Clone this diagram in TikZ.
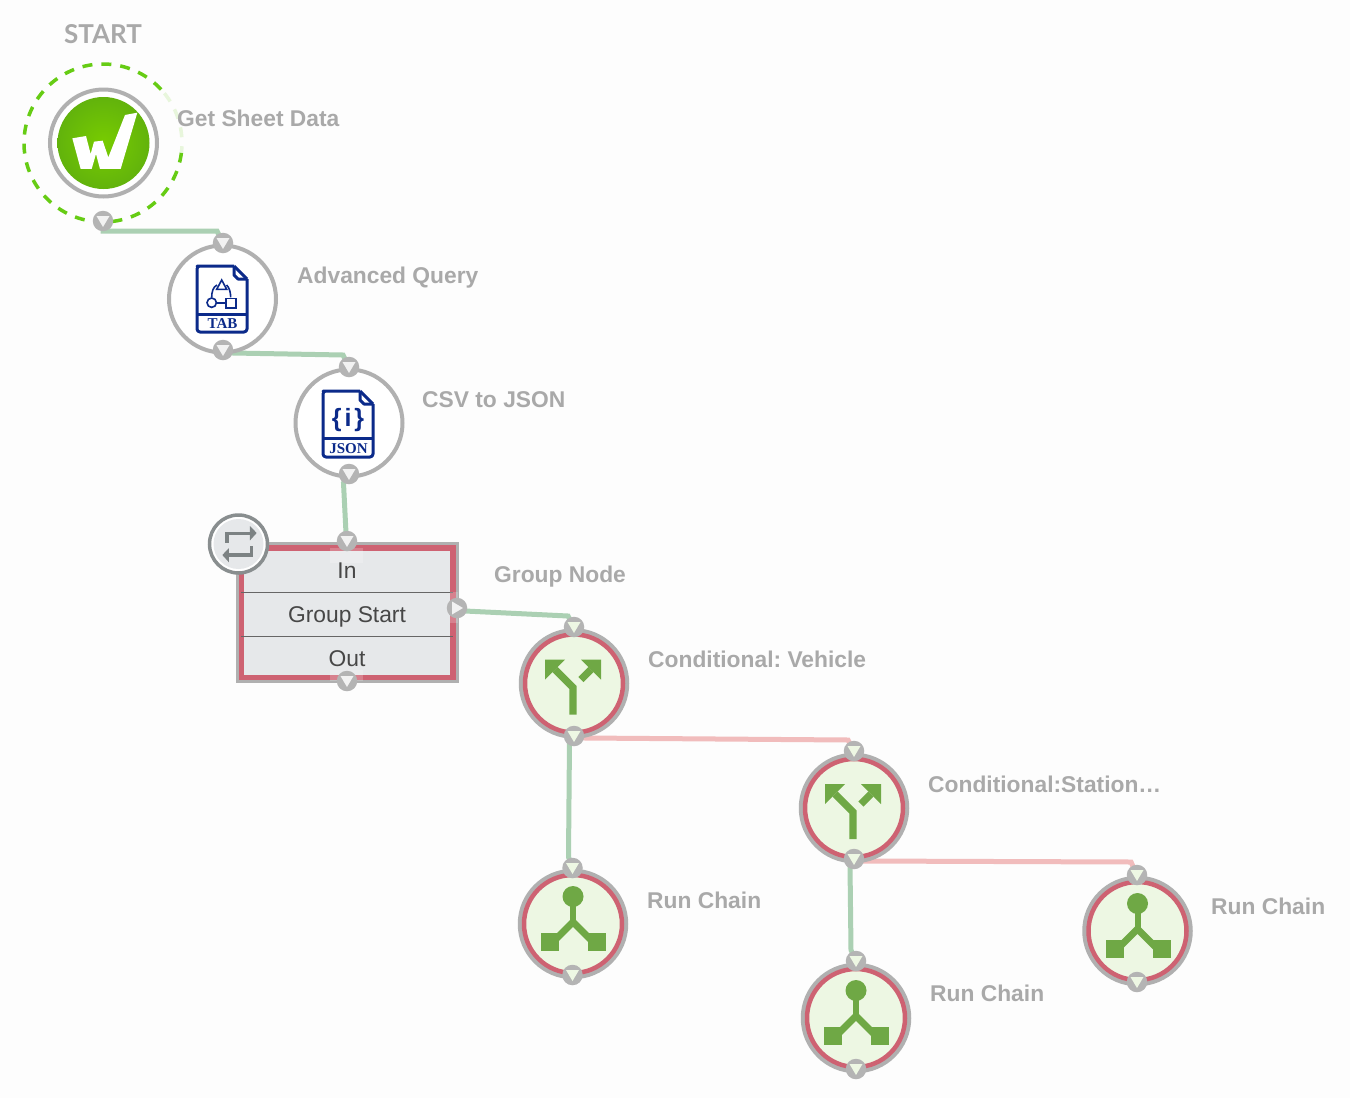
\documentclass[tikz,border=0pt]{standalone}
\usepackage{fontspec}
\setmainfont{Liberation Sans}
\newfontfamily\startfont{Lato}
\newfontfamily\serifbold{Liberation Serif}
\usetikzlibrary{calc}
\pgfdeclarelayer{back}
\pgfdeclarelayer{wires}
\pgfsetlayers{back,wires,main}
\definecolor{pagebg}{HTML}{FDFDFD}
\definecolor{graytxt}{HTML}{A9A9A9}
\definecolor{ringgray}{HTML}{B0B0B0}
\definecolor{portgray}{HTML}{B4B4B4}
\definecolor{redring}{HTML}{CE6272}
\definecolor{palegreen}{HTML}{EDF7E3}
\definecolor{icongreen}{HTML}{6FA845}
\definecolor{navy}{HTML}{0B2A8A}
\definecolor{wiregreen}{HTML}{ABD0B3}
\definecolor{wirepink}{HTML}{F1BCBC}
\definecolor{dashgreen}{HTML}{66CC14}
\definecolor{fadegreen}{HTML}{E8F6DC}
\definecolor{boxfill}{HTML}{E6E8EA}
\definecolor{loopgray}{HTML}{7C8283}
\definecolor{logolight}{HTML}{78CC00}
\definecolor{logodark}{HTML}{62B30C}
\tikzset{
  lbl/.style={anchor=base west,inner sep=0pt,text=graytxt,font=\frenchspacing\fontsize{22.8}{23}\selectfont\bfseries},
  boxtxt/.style={anchor=base,inner sep=0pt,text=black!72,font=\fontsize{22.8}{23}\selectfont},
  plain/.style={circle,inner sep=0pt,minimum size=107pt,draw=ringgray,line width=4pt,fill=white},
  redout/.style={circle,inner sep=0pt,minimum size=106pt,draw=ringgray,line width=4.5pt,fill=palegreen},
  redin/.style={circle,inner sep=0pt,minimum size=98pt,draw=redring,line width=4.5pt},
  portc/.style={circle,inner sep=0pt,minimum size=20.5pt,fill=portgray},
  wg/.style={draw=wiregreen,line width=5pt},
  wp/.style={draw=wirepink,line width=5pt},
  docline/.style={draw=navy,line width=3pt,line join=round},
  symline/.style={draw=navy,line width=1.6pt},
  iconfill/.style={fill=icongreen},
  iconline/.style={draw=icongreen,line width=7.3pt},
}
% port: name, x, y, triangle colour
\newcommand\portdown[4]{\node[portc] (#1) at (#2,#3) {};
  \fill[#4] (#1.center) ++(-6.5,-5) -- ++(13,0) -- ++(-6.5,11) -- cycle;}
\newcommand\portright[4]{\node[portc] (#1) at (#2,#3) {};
  \fill[#4] (#1.center) ++(-5,-6.5) -- ++(0,13) -- ++(11,-6.5) -- cycle;}
% pale green node with grey and red rings
\newcommand\rednode[3]{\node[redout] (#1) at (#2,#3) {};
  \node[redin] (#1r) at (#2,#3) {};}
\newcommand\condicon[2]{\begin{scope}[shift={(#1,#2)}]
  \fill[iconfill] (-29,-24) -- (-9,-24) -- (-29,-4) -- cycle;
  \fill[iconfill] (27,-24) -- (27,-4) -- (7,-24) -- cycle;
  \draw[iconline] (-19,-14) -- (-1,4) -- (-1,31);
  \draw[iconline] (17,-14) -- (7,-4);
\end{scope}}
\newcommand\runicon[2]{\begin{scope}[shift={(#1,#2)}]
  \fill[iconfill] (0,-27.5) circle (10.5);
  \draw[icongreen,line width=6pt] (0,-20) -- (0,-2);
  \draw[icongreen,line width=7pt] (-21,19) -- (0,-2) -- (21,19);
  \fill[iconfill] (-32,9) rectangle (-14,27);
  \fill[iconfill] (15,9) rectangle (33,27);
\end{scope}}
\tikzset{doclabel/.initial={}}
\newcommand\docicon[4]{\begin{scope}[shift={(#1,#2)}]
  \draw[docline,rounded corners=3pt] (37,0) -- (3,0) -- (0,0) -- (0,66) -- (50,66) -- (50,13);
  \draw[docline] (37,0) -- (50,13);
  \draw[docline] (37,0) -- (37,9) -- (41,13) -- (50,13);
  \draw[docline] (0,#3) -- (50,#3);
  \node (#4) [anchor=base,inner sep=0pt,text=navy,font=\serifbold\fontsize{15}{15}\selectfont\bfseries] at (25.5,62) {\pgfkeysvalueof{/tikz/doclabel}};
\end{scope}}
\begin{document}
\begin{tikzpicture}[x=1pt,y=-1pt]
\useasboundingbox (0,0) rectangle (1350,1098);
\begin{pgfonlayer}{back}
\fill[pagebg] (0,0) rectangle (1350,1098);
\end{pgfonlayer}

% START node
\node[anchor=base,inner sep=0pt,text=graytxt,font=\startfont\fontsize{26}{26}\selectfont\bfseries] (starttxt) at (103,43) {START};
\draw[dashgreen,line width=3.5pt,dash pattern=on 10pt off 9pt] (103,143) ++(7:79) arc (7:321:79);
\draw[fadegreen,line width=3.5pt,dash pattern=on 10pt off 9pt] (103,143) ++(321:79) arc (321:367:79);
\node[circle,inner sep=0pt,minimum size=107pt,draw=ringgray,line width=4pt,fill=white] (st) at (103.5,143) {};
\shade[inner color=logolight,outer color=logodark] (103.5,143) circle (46);
\begin{scope}[shift={(60,100)},x=0.3333pt,y=-0.3333pt]
\fill[white] (37,115) -- (78,108) -- (92,162) -- (102,125) -- (128,122) -- (145,172) -- (195,45) -- (232,38) -- (182,207) -- (157,207) -- (120,207) -- (108,162) -- (95,207) -- (62,207) -- cycle;
\end{scope}
\node[lbl] (getlbl) at (177,126) {Get Sheet Data};

% document nodes
\node[plain] (adv) at (222.5,299) {};
\tikzset{doclabel=TAB}
\docicon{197}{266}{48}{tabtxt}
\begin{scope}[shift={(197,266)}]
\draw[symline] (24.7,14) -- (19.7,23.3) -- (29.7,23.3) -- cycle;
\draw[symline] (14.7,36.7) circle (4.7);
\draw[symline] (29,32.3) rectangle (39,41.7);
\draw[symline] (19.4,36.7) -- (29,36.7);
\draw[symline] (14.7,31.3) .. controls (14.7,26) and (16,21) .. (20,19);
\draw[symline] (29.5,19) .. controls (32,21) and (33.7,26) .. (33.7,31.3);
\end{scope}
\node[lbl] (advlbl) at (297,283) {Advanced Query};

\node[plain] (csv) at (349,423) {};
\tikzset{doclabel=JSON}
\docicon{323}{391}{47}{jsontxt}
\node[anchor=center,inner sep=0pt,text=navy,font=\fontsize{25}{25}\selectfont\bfseries] (brace) at (348,420) {\{\hspace{3pt}i\hspace{3pt}\}};
\node[lbl] (csvlbl) at (422,407) {CSV to JSON};

% group box
\node[draw=ringgray,line width=3pt,fill=boxfill,inner sep=0pt,minimum width=220pt,minimum height=138pt] (grpout) at (347,612.5) {};
\node[draw=redring,line width=5.5pt,inner sep=0pt,minimum width=211.5pt,minimum height=129.5pt] (grp) at (347,612.5) {};
\draw[black!60,line width=1pt] (241,592) -- (453,592);
\draw[black!60,line width=1pt] (241,636) -- (453,636);
\fill[white,opacity=0.2] (330,548) rectangle (363,563);
\fill[white,opacity=0.2] (450,592) rectangle (458,623);
\fill[white,opacity=0.2] (330,670) rectangle (363,681);
\node[boxtxt] (intxt) at (347,578) {In};
\node[boxtxt] (gstxt) at (347,622) {Group Start};
\node[boxtxt] (outtxt) at (347,666) {Out};
\node[lbl] (grplbl) at (494,582) {Group Node};

\node[circle,inner sep=0pt,minimum size=58pt,draw=loopgray!90,line width=3.5pt,fill=white] (loopa) at (238.5,544) {};
\node[circle,inner sep=0pt,minimum size=50pt,fill=boxfill] (loopb) at (238.5,544) {};
\begin{scope}[shift={(205,510)},x=0.3333pt,y=-0.3333pt]
\draw[loopgray,line width=3.5pt] (66,98) -- (66,70) -- (138,70);
\fill[loopgray] (135,48) -- (155,69) -- (135,91) -- cycle;
\draw[loopgray,line width=3.5pt] (139,108) -- (139,135) -- (70,135);
\fill[loopgray] (72,114) -- (52,135) -- (72,157) -- cycle;
\end{scope}

% conditional and chain nodes
\rednode{cv}{574}{683.5}
\condicon{574}{683.5}
\node[lbl] (cvlbl) at (648,667) {Conditional: Vehicle};
\rednode{cs}{854}{808}
\condicon{854}{808}
\node[lbl] (cslbl) at (928,792) {Conditional:Station…};
\rednode{ra}{573}{924}
\runicon{573}{924}
\node[lbl] (ralbl) at (647,908) {Run Chain};
\rednode{rb}{856}{1018}
\runicon{856}{1018}
\node[lbl] (rblbl) at (930,1001) {Run Chain};
\rednode{rc}{1137.5}{931}
\runicon{1137.5}{931}
\node[lbl] (rclbl) at (1211,914) {Run Chain};

% ports
\portdown{pst}{103}{221}{white!95!black}
\portdown{pa1}{223}{243}{white!95!black}
\portdown{pa2}{223}{350}{white!95!black}
\portdown{pc1}{349}{367}{white!95!black}
\portdown{pc2}{349}{474}{white!95!black}
\portdown{pg1}{347}{541}{white!95!black}
\portright{pg2}{457}{608}{white!95!black}
\portdown{pg3}{347}{681}{white!95!black}
\portdown{pv1}{574}{627}{palegreen}
\portdown{pv2}{574}{736}{palegreen}
\portdown{ps1}{854}{751}{palegreen}
\portdown{ps2}{854}{859}{palegreen}
\portdown{pra1}{572.5}{868}{palegreen}
\portdown{pra2}{572.5}{975}{palegreen}
\portdown{prb1}{856}{961}{palegreen}
\portdown{prb2}{856}{1069}{palegreen}
\portdown{prc1}{1137}{875}{palegreen}
\portdown{prc2}{1137}{982}{palegreen}

% connectors
\coordinate (b1a) at (103,231);
\coordinate (b1b) at (217,231);
\coordinate (b2a) at (233,353);
\coordinate (b2b) at (343,355);
\coordinate (b3a) at (343.5,483);
\coordinate (b3b) at (346,533);
\coordinate (b4a) at (465,611);
\coordinate (b4b) at (568,616);
\coordinate (b5a) at (585,738);
\coordinate (b5b) at (848,740);
\coordinate (b6a) at (569.5,740);
\coordinate (b6b) at (568.5,857);
\coordinate (b7a) at (862,861);
\coordinate (b7b) at (1131,862);
\coordinate (b8a) at (850,865);
\coordinate (b8b) at (851,950);
\begin{pgfonlayer}{wires}
\draw[wg] (pst.center) -- (b1a) -- (b1b) -- (pa1.center);
\draw[wg] (pa2.center) -- (b2a) -- (b2b) -- (pc1.center);
\draw[wg] (pc2.center) -- (b3a) -- (b3b) -- (pg1.center);
\draw[wg] (pg2.center) -- (b4a) -- (b4b) -- (pv1.center);
\draw[wp] (pv2.center) -- (b5a) -- (b5b) -- (ps1.center);
\draw[wg] (pv2.center) -- (b6a) -- (b6b) -- (pra1.center);
\draw[wp] (ps2.center) -- (b7a) -- (b7b) -- (prc1.center);
\draw[wg] (ps2.center) -- (b8a) -- (b8b) -- (prb1.center);
\end{pgfonlayer}
\end{tikzpicture}
\end{document}
